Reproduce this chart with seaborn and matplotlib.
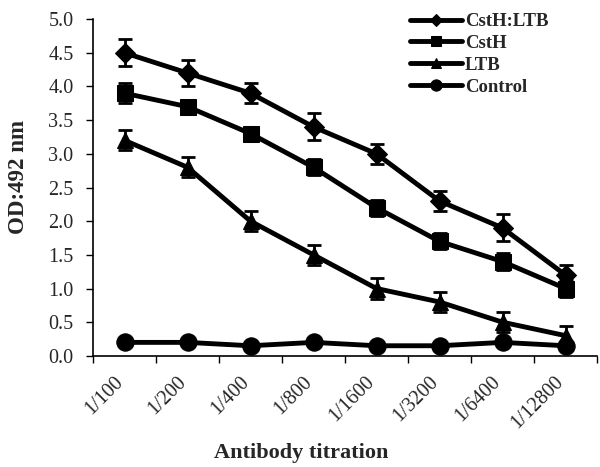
import pandas as pd
import matplotlib
matplotlib.use('Agg')
import matplotlib.pyplot as plt
import matplotlib.ticker as ticker
import matplotlib.transforms as mtransforms
import seaborn as sns
import numpy as np

sns.set_style('ticks')
plt.rcParams['font.family'] = ['Liberation Serif', 'DejaVu Serif']

titrations = ['1/100', '1/200', '1/400', '1/800', '1/1600', '1/3200', '1/6400', '1/12800']

cst_ltb     = [4.5, 4.2, 3.9, 3.4, 3.0, 2.3, 1.9, 1.2]
cst_ltb_err = [0.2, 0.2, 0.15, 0.2, 0.15, 0.15, 0.2, 0.15]
csth        = [3.9, 3.7, 3.3, 2.8, 2.2, 1.7, 1.4, 1.0]
csth_err    = [0.15, 0.1, 0.1, 0.12, 0.12, 0.12, 0.12, 0.12]
ltb         = [3.2, 2.8, 2.0, 1.5, 1.0, 0.8, 0.5, 0.3]
ltb_err     = [0.15, 0.15, 0.15, 0.15, 0.15, 0.15, 0.15, 0.15]
control     = [0.2, 0.2, 0.15, 0.2, 0.15, 0.15, 0.2, 0.15]
control_err = [0.04, 0.04, 0.04, 0.04, 0.04, 0.04, 0.04, 0.04]

groups = ['CstH:LTB', 'CstH', 'LTB', 'Control']
values = [cst_ltb, csth, ltb, control]
errors = [cst_ltb_err, csth_err, ltb_err, control_err]
markers = ['D', 's', '^', 'o']
msizes = [10, 12, 12, 12.5]

rows = []
for g, v, e in zip(groups, values, errors):
    for i, (val, err) in enumerate(zip(v, e)):
        rows.append({'group': g, 'pos': i, 'titration': titrations[i], 'od': val, 'err': err})
df = pd.DataFrame(rows)

fig = plt.figure(figsize=(6, 4.67), dpi=100)
ax = fig.add_axes([0.155, 0.238, 0.84, 0.721])

for g, m, ms in zip(groups, markers, msizes):
    sub = df[df['group'] == g]
    ax.errorbar(sub['pos'], sub['od'], yerr=sub['err'], fmt='none',
                ecolor='black', elinewidth=2, capsize=5, capthick=2, zorder=2)
    sns.lineplot(data=sub, x='pos', y='od', ax=ax, color='black', linewidth=3.5,
                 marker=m, markersize=ms, markeredgecolor='black',
                 label=g, zorder=3)

ax.set_xlim(-0.5, 7.5)
ax.set_ylim(0, 5.0)
ax.yaxis.set_major_locator(ticker.MultipleLocator(0.5))
ax.yaxis.set_major_formatter(ticker.FormatStrFormatter('%.1f'))

ax.set_xticks(range(len(titrations)))
ax.set_xticklabels(titrations, rotation=45, ha='right', rotation_mode='anchor')
ax.set_xticks(np.arange(-0.5, 8.0, 1.0), minor=True)
ax.tick_params(axis='x', which='major', length=0, labelsize=14.5, pad=12)
ax.tick_params(axis='x', which='minor', length=5, width=1, color='black')
ax.tick_params(axis='y', length=5, width=1, labelsize=14.5, color='black', pad=9)

# nudge the rotated labels a little to the left, like the original
shift = mtransforms.ScaledTranslation(-8 / 72, 0, fig.dpi_scale_trans)
for lbl in ax.get_xticklabels():
    lbl.set_transform(lbl.get_transform() + shift)

ax.set_xlabel('Antibody titration', fontsize=16, fontweight='bold')
ax.xaxis.set_label_coords(0.413, -0.26)
ax.set_ylabel('OD:492 nm', fontsize=16.5, fontweight='bold')
ax.yaxis.set_label_coords(-0.127, 0.53)

for side in ['top', 'right']:
    ax.spines[side].set_visible(False)
for side in ['left', 'bottom']:
    ax.spines[side].set_color('black')
    ax.spines[side].set_linewidth(1.2)

leg = ax.legend(loc='upper left', bbox_to_anchor=(0.683, 0.972),
                bbox_transform=fig.transFigure, frameon=False,
                borderpad=0, borderaxespad=0,
                prop={'weight': 'bold', 'size': 13.5}, handlelength=2.8,
                handletextpad=0.15, labelspacing=0.25, markerscale=0.65)

plt.savefig('out.png', dpi=100)
plt.close()
